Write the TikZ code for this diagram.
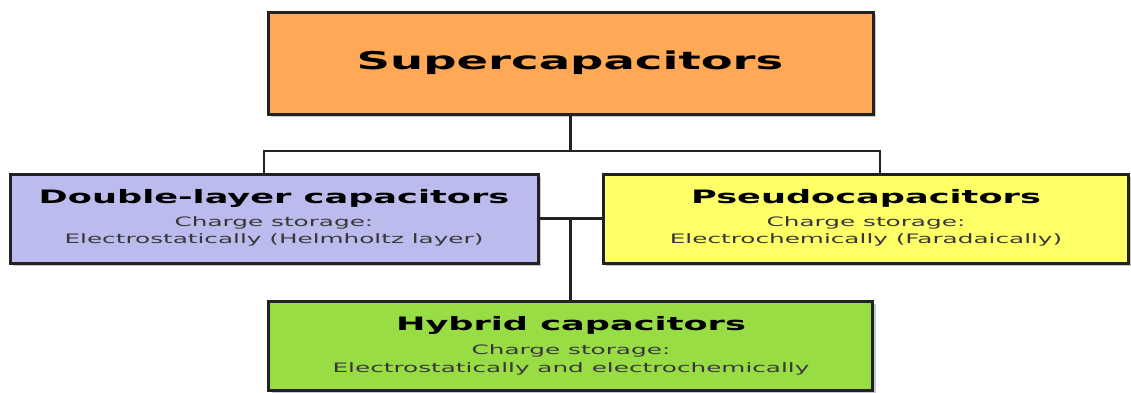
\documentclass[tikz,border=0pt]{standalone}
\usepackage{fontspec}
\usetikzlibrary{shadows,calc}
\newfontfamily\rstretch[FakeStretch=1.9]{DejaVu Sans}
\newfontfamily\bstretch[FakeStretch=1.9]{DejaVu Sans Bold}
\definecolor{cOrange}{RGB}{255,168,85}
\definecolor{cLav}{RGB}{187,187,238}
\definecolor{cYel}{RGB}{255,255,102}
\definecolor{cGreen}{RGB}{153,221,68}
\definecolor{cEdge}{RGB}{34,34,34}
\definecolor{cSub}{RGB}{55,55,55}
\begin{document}
\begin{tikzpicture}[x=1pt,y=1pt,
  box/.style={draw=cEdge,line width=3pt,inner sep=0pt,
    drop shadow={shadow xshift=3pt,shadow yshift=-3pt,opacity=0.35,fill=black!60}},
  conn/.style={draw=cEdge,line width=2.5pt},
  bigtitle/.style={anchor=base,inner sep=0pt,font=\bstretch\fontsize{24.5}{28}\selectfont},
  title/.style={anchor=base,inner sep=0pt,font=\bstretch\fontsize{18.5}{22}\selectfont},
  sub/.style={anchor=base,inner sep=0pt,text=cSub,font=\rstretch\fontsize{13}{15}\selectfont}
]
\useasboundingbox (0,0) rectangle (1131,-392);
% connectors (drawn first, under the boxes)
\coordinate (bus) at (570.5,-151);
\coordinate (busL) at (264,-151);
\coordinate (busR) at (880,-151);
\coordinate (mid) at (570.5,-218.5);
% boxes
\node[box,fill=cOrange,minimum width=605pt,minimum height=102pt] (top) at (570.5,-63) {};
\node[box,fill=cLav,minimum width=528pt,minimum height=89pt] (dl) at (274,-218.5) {};
\node[box,fill=cYel,minimum width=525pt,minimum height=89pt] (ps) at (865.5,-218.5) {};
\node[box,fill=cGreen,minimum width=604pt,minimum height=89pt] (hy) at (570.5,-345.5) {};
\draw[conn] (busL |- dl.north) -- (busL) -- (busR) -- (busR |- ps.north);
\draw[conn] (top.south) -- (bus);
\draw[conn] (dl.east) -- (ps.west);
\draw[conn] (hy.north) -- (mid);
% texts
\node[bigtitle] (tTop) at (570,-69) {Supercapacitors};
\node[title] (tDL) at (274,-203) {Double-layer capacitors};
\node[sub] (sDL1) at (274,-226) {Charge storage:};
\node[sub] (sDL2) at (274,-243) {Electrostatically (Helmholtz layer)};
\node[title] (tPS) at (866,-203) {Pseudocapacitors};
\node[sub] (sPS1) at (866,-226) {Charge storage:};
\node[sub] (sPS2) at (866,-243) {Electrochemically (Faradaically)};
\node[title] (tHY) at (571,-330) {Hybrid capacitors};
\node[sub] (sHY1) at (571,-354) {Charge storage:};
\node[sub] (sHY2) at (571,-372) {Electrostatically and electrochemically};
\end{tikzpicture}
\end{document}
